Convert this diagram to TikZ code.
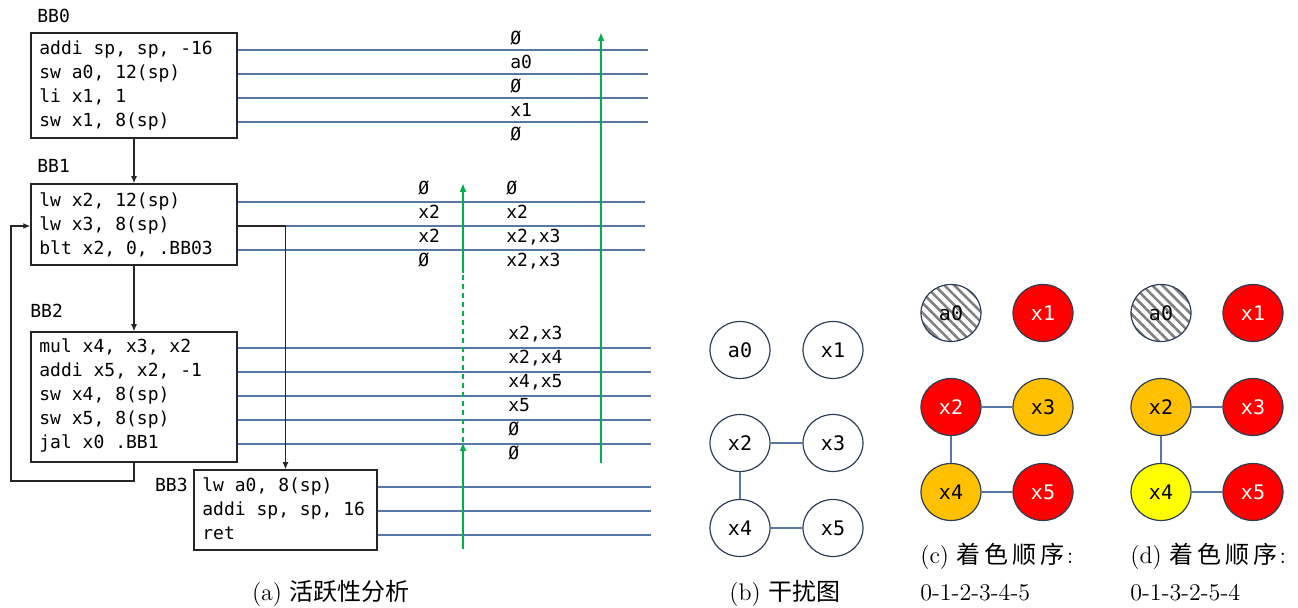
\documentclass[tikz,border=0pt]{standalone}
\usepackage{fontspec}
\setmonofont{DejaVu Sans Mono}
\newfontfamily\cjk{Noto Sans CJK SC}
\usetikzlibrary{arrows.meta,positioning,shapes.geometric,patterns.meta}
\definecolor{livecol}{RGB}{88,118,168}
\definecolor{sweepcol}{RGB}{0,176,80}
\definecolor{regborder}{RGB}{44,62,84}
\definecolor{colred}{RGB}{255,0,0}
\definecolor{colorange}{RGB}{255,192,0}
\definecolor{colyellow}{RGB}{255,255,0}
\tikzset{
  codeline/.style={anchor=west,inner sep=0pt,text height=6.5pt,text depth=1.8pt,
                   font=\fontsize{9}{11}\ttfamily},
  blocklbl/.style={codeline},
  blockbox/.style={draw=black!85,line width=.75pt,inner sep=0pt},
  live/.style={draw=livecol,line width=.55pt},
  flow/.style={-{Latex[length=3.5pt,width=3pt]},draw=black!85,line width=.6pt},
  sweep/.style={-{Latex[length=4.5pt,width=3.5pt]},draw=sweepcol,line width=.9pt},
  setlbl/.style={codeline},
  vreg/.style={ellipse,draw=regborder,line width=.6pt,fill=white,minimum width=30pt,
               minimum height=28.5pt,inner sep=0pt,font=\fontsize{10}{12}\ttfamily},
  hatched/.style={vreg,pattern={Lines[angle=-45,distance=3.5pt,line width=1.3pt]},
                  pattern color=black!50},
  rcol/.style={vreg,fill=colred,text=white},
  ocol/.style={vreg,fill=colorange},
  ycol/.style={vreg,fill=colyellow},
  ifedge/.style={draw=livecol,line width=.7pt},
  subcap/.style={inner sep=0pt,font=\fontsize{12}{14}\selectfont},
}
\begin{document}
\begin{tikzpicture}[x=0.5pt,y=-0.5pt]
  \useasboundingbox (0,0) rectangle (1298,608);
  % basic blocks
  \node[blockbox,minimum width=103pt,minimum height=52.5pt] (bb0) at (134,85.5) {};
  \node[blockbox,minimum width=103pt,minimum height=40.5pt] (bb1) at (134,224.5) {};
  \node[blockbox,minimum width=103pt,minimum height=65pt] (bb2) at (134,397) {};
  \node[blockbox,minimum width=91.5pt,minimum height=40pt] (bb3) at (285.5,510) {};
  \node[blocklbl] (bb0lbl) at (37,18) {BB0};
  \node[blocklbl] (bb1lbl) at (37,168) {BB1};
  \node[blocklbl] (bb2lbl) at (30,313) {BB2};
  \node[blocklbl,anchor=east] (bb3lbl) at (188,487) {BB3};
  \foreach \t [count=\i] in {{addi sp, sp, -16},{sw a0, 12(sp)},{li x1, 1},{sw x1, 8(sp)}}
    \node[codeline] (b0i\i) at (39,{26+24*\i}) {\t};
  \foreach \t [count=\i] in {{lw x2, 12(sp)},{lw x3, 8(sp)},{blt x2, 0, .BB03}}
    \node[codeline] (b1i\i) at (39,{178+24*\i}) {\t};
  \foreach \t [count=\i] in {{mul x4, x3, x2},{addi x5, x2, -1},{sw x4, 8(sp)},{sw x5, 8(sp)},{jal x0 .BB1}}
    \node[codeline] (b2i\i) at (39,{324+24*\i}) {\t};
  \foreach \t [count=\i] in {{lw a0, 8(sp)},{addi sp, sp, 16},{ret}}
    \node[codeline] (b3i\i) at (202,{463+24*\i}) {\t};
  % program points
  \coordinate (endA) at (648,0);
  \coordinate (endB) at (645,0);
  \coordinate (endC) at (651,0);
  \foreach \i in {1,...,4} \draw[live] (bb0.east |- b0i\i) -- (endA |- b0i\i);
  \foreach \i in {1,...,3} \draw[live] (bb1.east |- b1i\i) -- (endB |- b1i\i);
  \foreach \i in {1,...,5} \draw[live] (bb2.east |- b2i\i) -- (endC |- b2i\i);
  \foreach \i in {1,...,3} \draw[live] (bb3.east |- b3i\i) -- (endC |- b3i\i);
  % control flow
  \coordinate (loopc) at (11,481);
  \draw[flow] (bb0.south) -- (bb1.north);
  \draw[flow] (bb1.south) -- (bb2.north);
  \draw[flow] (bb2.south) |- (loopc) |- (bb1.west |- b1i2);
  \draw[flow] (bb1.east |- b1i2) -| (bb3.north);
  % backward sweeps
  \coordinate (swR0) at (601,463);
  \coordinate (swR1) at (601,32);
  \coordinate (swL0) at (463,549);
  \coordinate (swL1) at (463,442);
  \coordinate (swL2) at (463,273);
  \coordinate (swL3) at (463,183);
  \draw[sweep] (swR0) -- (swR1);
  \draw[sweep] (swL0) -- (swL1);
  \draw[sweep,-,dash pattern=on 2.5pt off 2pt] (swL1) -- (swL2);
  \draw[sweep] (swL2) -- (swL3);
  % live sets
  \foreach \x/\y/\t [count=\k] in {510/40/Ø,510/64/a0,510/88/Ø,510/112/x1,510/136/Ø,
      418/190/Ø,418/214/x2,418/238/x2,418/262/Ø,
      506/190/Ø,506/214/x2,506/238/{x2,x3},506/262/{x2,x3},
      508/335/{x2,x3},508/359/{x2,x4},508/383/{x4,x5},508/407/x5,508/431/Ø,508/455/Ø}
    \node[setlbl] (lv\k) at (\x,\y) {\t};
  \node[subcap] (capa) at (331,593) {(a) {\cjk 活跃性分析}};
  % interference graph
  \node[vreg] (ba0) at (740,350) {a0};
  \node[vreg] (bx1) at (833,350) {x1};
  \node[vreg] (bx2) at (740,443) {x2};
  \node[vreg] (bx3) at (833,443) {x3};
  \node[vreg] (bx4) at (740,528) {x4};
  \node[vreg] (bx5) at (833,528) {x5};
  \draw[ifedge] (bx2) -- (bx3) (bx2) -- (bx4) (bx4) -- (bx5);
  \node[subcap] (capb) at (785,593) {(b) {\cjk 干扰图}};
  % colouring, order 0-1-2-3-4-5
  \node[hatched] (ca0) at (951,313) {a0};
  \node[rcol] (cx1) at (1043,313) {x1};
  \node[rcol] (cx2) at (951,407) {x2};
  \node[ocol] (cx3) at (1043,407) {x3};
  \node[ocol] (cx4) at (951,492) {x4};
  \node[rcol] (cx5) at (1043,492) {x5};
  \draw[ifedge] (cx2) -- (cx3) (cx2) -- (cx4) (cx4) -- (cx5);
  \node[subcap,anchor=west] (capc) at (920,556)
    {(c) {\cjk 着\hspace{2pt}色\hspace{2pt}顺\hspace{2pt}序}\hspace{1pt}:};
  \node[subcap,anchor=west] (ordc) at (920,593) {0-1-2-3-4-5};
  % colouring, order 0-1-3-2-5-4
  \node[hatched] (da0) at (1161,313) {a0};
  \node[rcol] (dx1) at (1253,313) {x1};
  \node[ocol] (dx2) at (1161,407) {x2};
  \node[rcol] (dx3) at (1253,407) {x3};
  \node[ycol] (dx4) at (1161,492) {x4};
  \node[rcol] (dx5) at (1253,492) {x5};
  \draw[ifedge] (dx2) -- (dx3) (dx2) -- (dx4) (dx4) -- (dx5);
  \node[subcap,anchor=west] (capd) at (1130,556)
    {(d) {\cjk 着\hspace{2pt}色\hspace{2pt}顺\hspace{2pt}序}\hspace{1pt}:};
  \node[subcap,anchor=west] (ordd) at (1130,593) {0-1-3-2-5-4};
\end{tikzpicture}
\end{document}
